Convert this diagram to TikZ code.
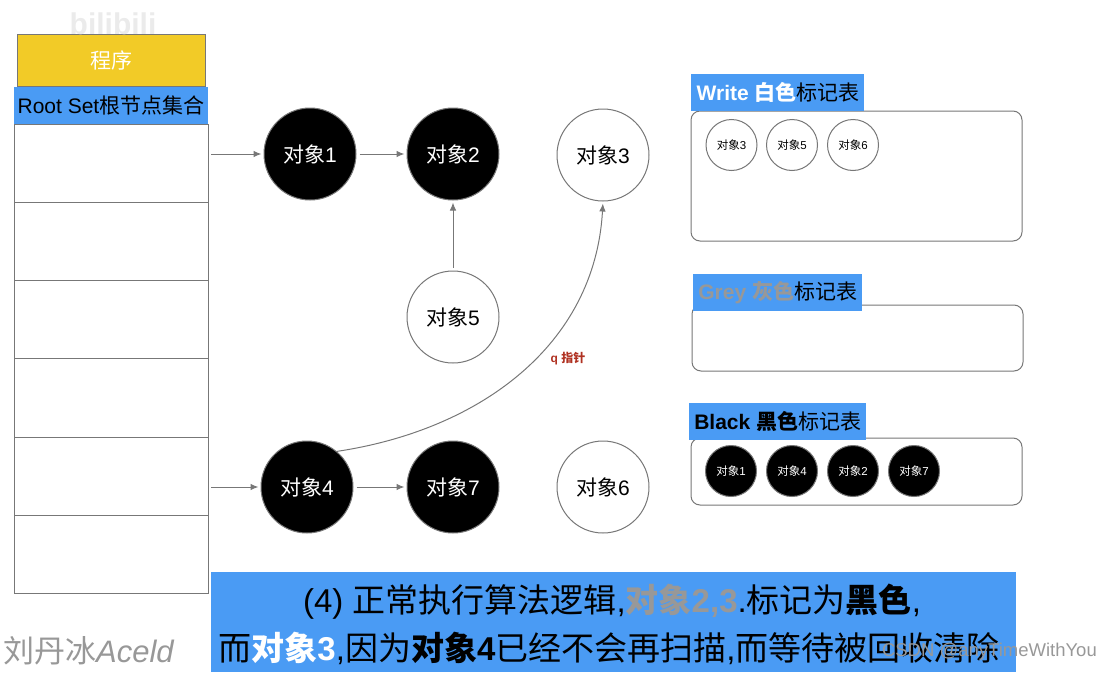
\documentclass[tikz,border=0pt]{standalone}
\usepackage{fontspec}
\setmainfont{Liberation Sans}
\newfontfamily\cjk{Noto Sans CJK SC}
\usetikzlibrary{arrows.meta}
\newcommand{\zh}[1]{{\cjk #1}}
\newcommand{\fsize}[1]{\fontsize{#1}{#1}\selectfont}
\definecolor{bannerblue}{HTML}{4A9BF4}
\definecolor{progyellow}{HTML}{F2CB27}
\definecolor{linegrey}{HTML}{777777}
\definecolor{labelgrey}{HTML}{989898}
\definecolor{qred}{HTML}{B03222}
\tikzset{
    objwhite/.style={circle, draw=linegrey, line width=1pt, fill=white, minimum size=92pt, inner sep=0pt, text=black, font=\fsize{21}},
    objblack/.style={objwhite, fill=black, text=white},
    miniwhite/.style={objwhite, minimum size=51pt, font=\fsize{11.5}},
    miniblack/.style={miniwhite, fill=black, text=white},
    rowbox/.style={rectangle, draw=linegrey, line width=0.8pt, fill=white, minimum width=194pt, inner sep=0pt},
    tablebox/.style={rectangle, draw=linegrey, line width=1pt, rounded corners=9pt, fill=white, inner sep=0pt, minimum width=331pt},
    titlebox/.style={rectangle, fill=bannerblue, inner sep=0pt, minimum height=37pt, font=\fsize{21}},
    pointer/.style={draw=linegrey, line width=1pt, -{Latex[length=8pt,width=6.5pt]}, shorten <=3pt, shorten >=2pt},
}
\begin{document}
\begin{tikzpicture}[x=1pt, y=-1pt]
    \useasboundingbox (0,0) rectangle (1111,672);

    % program and root set
    \node[rectangle, draw=linegrey, line width=0.8pt, fill=progyellow, minimum width=188pt, minimum height=52pt, inner sep=0pt, text=white, font=\fsize{21}] (program) at (111,60) {\zh{程序}};
    \foreach \name/\ypos/\high in {row1/163/78, row2/241/78, row3/319/78, row4/397.5/79, row5/476/78, row6/554/78} {
        \node[rowbox, minimum height=\high pt] (\name) at (111,\ypos) {};
    }
    \node[rectangle, fill=bannerblue, minimum width=194pt, minimum height=37pt, inner sep=0pt, font=\fsize{21}] (rootset) at (111,105.5) {Root Set\zh{根节点集合}};

    % objects
    \node[objblack] (obj1) at (310,154) {\zh{对象}1};
    \node[objblack] (obj2) at (453,154) {\zh{对象}2};
    \node[objwhite] (obj3) at (603,155) {\zh{对象}3};
    \node[objwhite] (obj5) at (453,317) {\zh{对象}5};
    \node[objblack] (obj4) at (307,487) {\zh{对象}4};
    \node[objblack] (obj7) at (453,487) {\zh{对象}7};
    \node[objwhite] (obj6) at (603,487) {\zh{对象}6};

    \draw[pointer] (obj1 -| row1.east) -- (obj1);
    \draw[pointer] (obj1) -- (obj2);
    \draw[pointer] (obj5) -- (obj2);
    \draw[pointer] (obj4 -| row5.east) -- (obj4);
    \draw[pointer] (obj4) -- (obj7);
    \draw[pointer, shorten <=0pt, shorten >=2pt] (obj4.50) .. controls (480,430) and (595,345) .. (obj3.south);
    \node[text=qred, font=\fsize{12}\bfseries] (qlabel) at (568,359) {q \zh{指针}};

    % colour tables
    \node[tablebox, minimum height=130pt] (writetable) at (856.5,176) {};
    \node[titlebox, anchor=north west, minimum width=173pt] (writetitle) at (691,74) {\hspace{1pt}{\bfseries\color{white}Write \zh{白色}}\zh{标记表}};
    \node[miniwhite] (wobj3) at (731.5,145) {\zh{对象}3};
    \node[miniwhite] (wobj5) at (792,145) {\zh{对象}5};
    \node[miniwhite] (wobj6) at (853,145) {\zh{对象}6};

    \node[tablebox, minimum height=66pt] (greytable) at (857.5,338) {};
    \node[titlebox, anchor=north west, minimum width=169pt] (greytitle) at (693,274) {{\bfseries\color{labelgrey}Grey \zh{灰色}}\zh{标记表}};

    \node[tablebox, minimum height=67pt] (blacktable) at (856.5,471.5) {};
    \node[titlebox, anchor=north west, minimum width=177pt] (blacktitle) at (689,403) {{\bfseries Black \zh{黑色}}\zh{标记表}};
    \node[miniblack] (bobj1) at (731,471) {\zh{对象}1};
    \node[miniblack] (bobj4) at (792,471) {\zh{对象}4};
    \node[miniblack] (bobj2) at (853,471) {\zh{对象}2};
    \node[miniblack] (bobj7) at (914,471) {\zh{对象}7};

    % bottom banner
    \node[rectangle, fill=bannerblue, anchor=north west, minimum width=805pt, minimum height=100pt, inner sep=0pt] (banner) at (211,572) {};
    \node[font=\fsize{33}] (line1) at (612,602) {(4) \zh{正常执行算法逻辑},{\bfseries\color{labelgrey}\zh{对象}2,3}.\zh{标记为}{\bfseries\zh{黑色}},};
    \node[font=\fsize{33}] (line2) at (609,648) {\zh{而}{\bfseries\color{white}\zh{对象}3},\zh{因为}{\bfseries\zh{对象}4}\zh{已经不会再扫描},\zh{而等待被回收清除}};

    % watermarks
    \node[text=labelgrey, font=\fsize{31}\itshape, anchor=west, inner sep=0pt] (signature) at (3,651) {\zh{刘丹冰}Aceld};
    \node[text=labelgrey, font=\fsize{18.5}, anchor=east, inner sep=0pt] (csdnmark) at (1097,652) {CSDN @anyTimeWithYou};
    \node[text=black!8, font=\fsize{30}\bfseries, anchor=south, inner sep=0pt] (bilimark) at (113,35) {bilibili};
\end{tikzpicture}
\end{document}
